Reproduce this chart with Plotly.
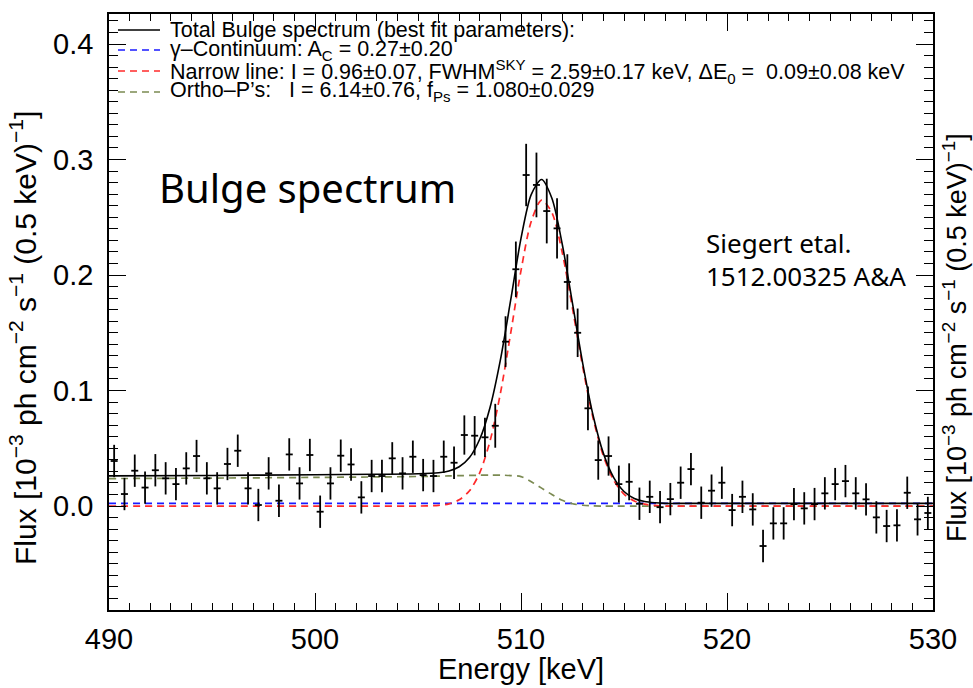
import plotly.graph_objects as go

# ---------------- data ----------------
energy = [490.25 + 0.5 * i for i in range(80)]  # bin centres (keV)
flux = [0.039, 0.0104, 0.0306, 0.016, 0.031, 0.024, 0.019, 0.0326, 0.0433, 0.024,
        0.0153, 0.0364, 0.0479, 0.0153, 0.0009, 0.0283, 0.0046, 0.0447, 0.0196, 0.0442,
        -0.0049, 0.0196, 0.0436, 0.036, 0.0075, 0.026, 0.026, 0.0413, 0.0283, 0.0427,
        0.0268, 0.026, 0.0427, 0.0375, 0.0615, 0.0609, 0.0595, 0.0695, 0.1423, 0.205,
        0.2866, 0.278, 0.2554, 0.2404, 0.194, 0.150, 0.0846, 0.0398, 0.0433, 0.019,
        0.021, 0.002, 0.008, -0.001, 0.006, 0.0202, 0.032, 0.0029, 0.0133, 0.0202,
        -0.0035, 0.008, -0.0029, -0.0346, -0.015, -0.015, 0.0017, -0.002, 0.0017, 0.011,
        0.019, 0.0216, 0.011, 0.0058, -0.0098, -0.0173, -0.0167, 0.0115, -0.0115, -0.006]
flux_err = [0.014] * 34 + [0.017, 0.017, 0.017, 0.019, 0.022, 0.024, 0.027, 0.028,
                           0.028, 0.026, 0.024, 0.021, 0.019, 0.017, 0.017, 0.016,
                           0.016] + [0.014] * 29
bin_half = [0.17] * 80

model_e = [490, 495, 500, 503, 505, 506, 506.5, 507, 507.5, 508, 508.5, 509, 509.5,
           510, 510.5, 511, 511.5, 512, 512.5, 513, 513.5, 514, 514.5, 515, 515.5,
           516, 516.5, 517, 518, 520, 525, 530]
continuum = [0.0023] * 32
narrow = [0, 0, 0, 0, 0, 0.0006, 0.0019, 0.0054, 0.0132, 0.029, 0.0565, 0.0975, 0.1497,
          0.2039, 0.2466, 0.2649, 0.2541, 0.2196, 0.1711, 0.1201, 0.0760, 0.0433,
          0.0223, 0.0103, 0.0043, 0.0016, 0.0005, 0, 0, 0, 0, 0]
orthops = [0.0238, 0.0242, 0.0248, 0.0252, 0.0256, 0.0259, 0.0261, 0.0263, 0.0265,
           0.0267, 0.0268, 0.0268, 0.0264, 0.0255, 0.021, 0.0155, 0.010, 0.005, 0.002,
           0.0007, 0.0001, 0, 0, 0, 0, 0, 0, 0, 0, 0, 0, 0]
total = [0.0261, 0.0265, 0.0271, 0.0275, 0.0279, 0.0288, 0.0303, 0.0340, 0.0420,
         0.0580, 0.0856, 0.1266, 0.1784, 0.2317, 0.2699, 0.2827, 0.2664, 0.2269,
         0.1754, 0.1231, 0.0784, 0.0456, 0.0246, 0.0126, 0.0066, 0.0039, 0.0028,
         0.0023, 0.0023, 0.0023, 0.0023, 0.0023]

x_ticks = [490, 500, 510, 520, 530]
y_ticks = [0.0, 0.1, 0.2, 0.3, 0.4]

legend_lines = [
    "Total Bulge spectrum (best fit parameters):",
    "\u03b3\u2013Continuum: A<sub>C</sub> = 0.27\u00b10.20",
    "Narrow line: I = 0.96\u00b10.07, FWHM<sup>SKY</sup> = 2.59\u00b10.17 keV, \u0394E<sub>0</sub> =\u00a0 0.09\u00b10.08 keV",
    "Ortho\u2013P\u2019s:\u00a0\u00a0 I = 6.14\u00b10.76, f<sub>Ps</sub> = 1.080\u00b10.029",
]
legend_colors = ["black", "#1a1aff", "#ff2a2a", "#7b8a52"]
legend_dash = ["solid", "7px,5px", "7px,5px", "7px,5px"]

ytitle = "Flux [10<sup>\u22123</sup> ph cm<sup>\u22122</sup> s<sup>\u22121</sup> (0.5 keV)<sup>\u22121</sup>]"

# ---------------- figure ----------------
W, H = 973, 688
ML, MR, MT, MB = 109, 40, 14, 78
PW, PH = W - ML - MR, H - MT - MB


def px(xp):
    return (xp - ML) / PW


def py(yp):
    return (H - MB - yp) / PH


fig = go.Figure()
fig.add_trace(go.Scatter(x=model_e, y=continuum, mode="lines", line=dict(color=legend_colors[1], width=1.7, dash=legend_dash[1]), showlegend=False))
fig.add_trace(go.Scatter(x=model_e, y=orthops, mode="lines", line=dict(color=legend_colors[3], width=1.7, dash=legend_dash[3], shape="spline", smoothing=0.8), showlegend=False))
fig.add_trace(go.Scatter(x=model_e, y=narrow, mode="lines", line=dict(color=legend_colors[2], width=1.7, dash=legend_dash[2], shape="spline", smoothing=0.8), showlegend=False))
fig.add_trace(go.Scatter(x=model_e, y=total, mode="lines", line=dict(color="black", width=1.6, shape="spline", smoothing=0.8), showlegend=False))
fig.add_trace(go.Scatter(
    x=energy, y=flux, mode="markers",
    marker=dict(size=1, color="black"),
    error_y=dict(type="data", array=flux_err, color="black", thickness=1.8, width=0),
    error_x=dict(type="data", array=bin_half, color="black", thickness=1.8, width=0),
    showlegend=False))

# legend (line samples + text)
leg_y = [30, 50, 71, 92]
for i, txt in enumerate(legend_lines):
    fig.add_shape(type="line", xref="paper", yref="paper",
                  x0=px(118), x1=px(160), y0=py(leg_y[i]), y1=py(leg_y[i]),
                  line=dict(color=legend_colors[i], width=1.7, dash=legend_dash[i]))
    fig.add_annotation(text=txt, xref="paper", yref="paper", x=px(168), y=py(leg_y[i]),
                       xanchor="left", yanchor="middle", showarrow=False,
                       font=dict(family="Liberation Sans", size=21.5, color="black"))

fig.add_annotation(text="Bulge spectrum", xref="paper", yref="paper", x=px(157), y=py(188),
                   xanchor="left", yanchor="middle", showarrow=False,
                   font=dict(family="Noto Sans", size=40, color="black"))
fig.add_annotation(text="Siegert etal.", xref="paper", yref="paper", x=px(704), y=py(243),
                   xanchor="left", yanchor="middle", showarrow=False,
                   font=dict(family="Noto Sans", size=26, color="black"))
fig.add_annotation(text="1512.00325 A&A", xref="paper", yref="paper", x=px(704), y=py(276),
                   xanchor="left", yanchor="middle", showarrow=False,
                   font=dict(family="Noto Sans", size=26, color="black"))

# axis titles
fig.add_annotation(text=ytitle, xref="paper", yref="paper", x=px(23), y=py(338),
                   xanchor="center", yanchor="middle", textangle=-90, showarrow=False,
                   font=dict(family="Liberation Sans", size=30, color="black"))
fig.add_annotation(text=ytitle, xref="paper", yref="paper", x=px(955), y=py(338),
                   xanchor="center", yanchor="middle", textangle=-90, showarrow=False,
                   font=dict(family="Liberation Sans", size=27, color="black"))
fig.add_annotation(text="Energy [keV]", xref="paper", yref="paper", x=px(521), y=py(669),
                   xanchor="center", yanchor="middle", showarrow=False,
                   font=dict(family="Liberation Sans", size=29, color="black"))

axis_common = dict(showline=True, linecolor="black", linewidth=1.5, mirror="ticks",
                   ticks="inside", ticklen=17, tickwidth=1.3, tickcolor="black",
                   showgrid=False, zeroline=False,
                   tickfont=dict(family="Liberation Sans", size=29, color="black"))
fig.update_xaxes(range=[490, 530], tickvals=x_ticks, ticktext=[str(v) for v in x_ticks],
                 minor=dict(ticks="inside", ticklen=7, dtick=1, tickcolor="black", tickwidth=1.2),
                 ticklabelstandoff=2, **axis_common)
fig.update_yaxes(range=[-0.09, 0.426], tickvals=y_ticks, ticktext=["%.1f" % v for v in y_ticks],
                 minor=dict(ticks="inside", ticklen=9, dtick=0.01, tickcolor="black", tickwidth=1.2),
                 ticklabelstandoff=8, **axis_common)

fig.update_layout(width=W, height=H, margin=dict(l=ML, r=MR, t=MT, b=MB),
                  plot_bgcolor="white", paper_bgcolor="white", showlegend=False)

fig.write_html("out.html")
